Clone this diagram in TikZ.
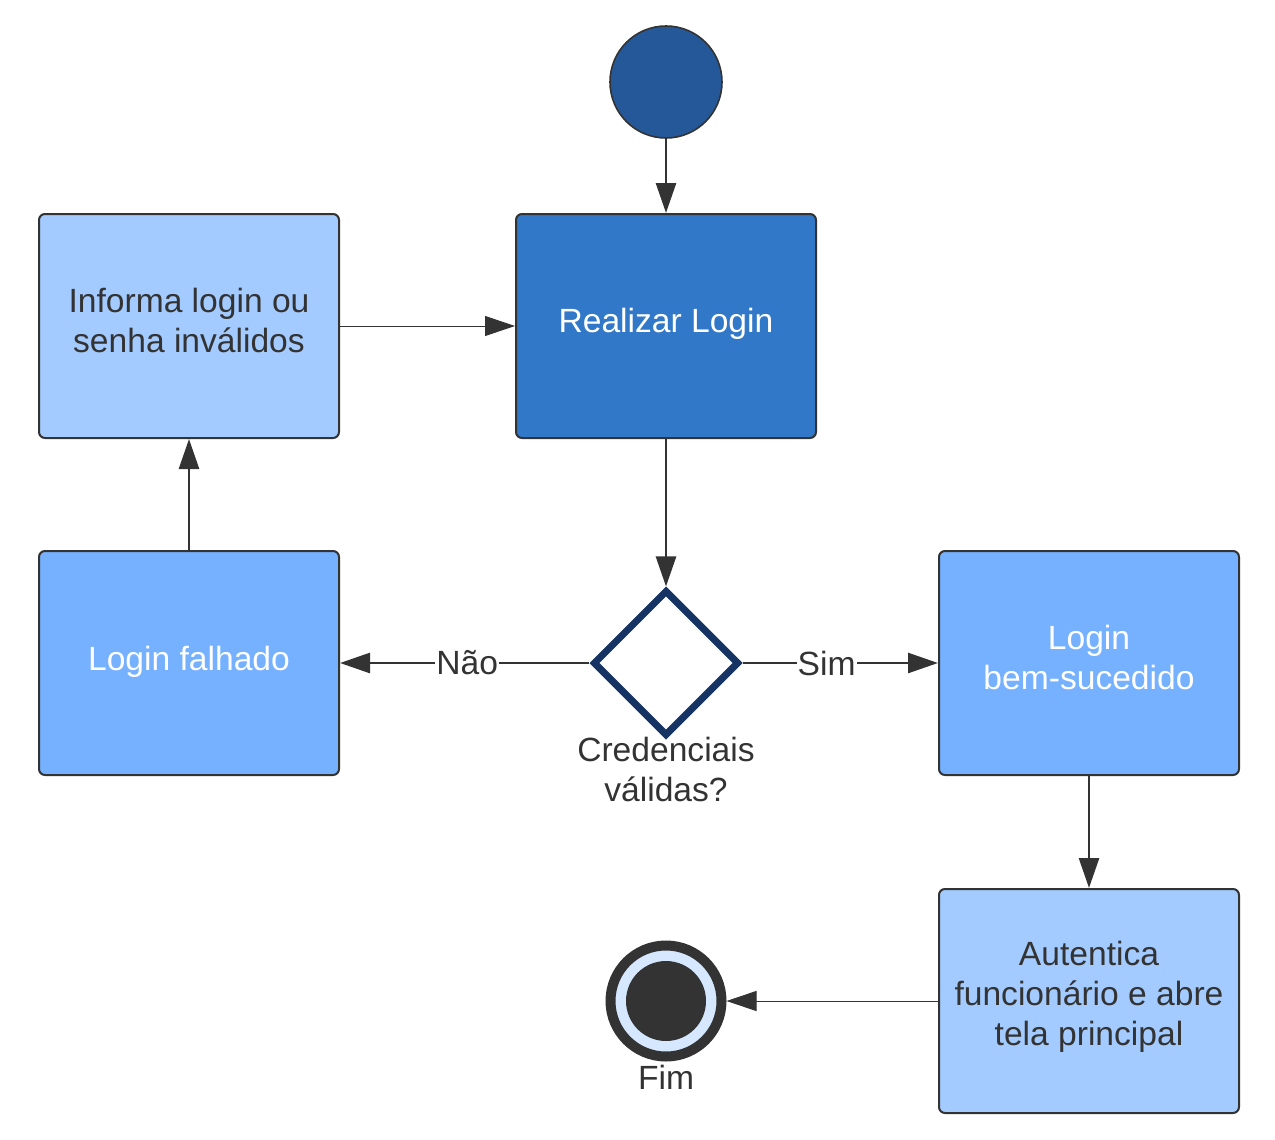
\documentclass[tikz,border=0pt]{standalone}
\usepackage{fontspec}
\setmainfont{Liberation Sans}
\usetikzlibrary{shapes.geometric,arrows.meta}
\definecolor{startblue}{RGB}{36,88,152}
\definecolor{midblue}{RGB}{49,120,200}
\definecolor{brightblue}{RGB}{117,177,255}
\definecolor{lightblue}{RGB}{163,203,255}
\definecolor{navy}{RGB}{22,52,99}
\definecolor{ringblue}{RGB}{214,232,255}
\definecolor{darkg}{RGB}{51,51,51}
\tikzset{
  boxstyle/.style={draw=darkg, line width=1pt, rounded corners=3pt, minimum width=150pt, minimum height=112pt, inner sep=0pt},
  boxtext/.style={align=center, font=\fontsize{16.8}{20}\selectfont, inner sep=0pt},
  darkbox/.style={boxstyle, fill=midblue},
  medbox/.style={boxstyle, fill=brightblue},
  litebox/.style={boxstyle, fill=lightblue},
  conn/.style={draw=darkg, line width=1.3pt, -{Triangle[length=15pt,width=10pt]}},
  thinconn/.style={draw=darkg, line width=0.5pt, -{Triangle[length=15pt,width=10pt]}},
  lbl/.style={font=\fontsize{16.8}{20}\selectfont, text=darkg, fill=white, inner sep=0.5pt},
}
\begin{document}
\begin{tikzpicture}[x=0.5pt,y=-0.5pt]
\useasboundingbox (0,0) rectangle (1275,1140);
\node[circle, draw=darkg, line width=0.8pt, fill=startblue, minimum size=56pt, inner sep=0pt] (start) at (666,82) {};
\node[darkbox, label={[boxtext, text=white, yshift=1pt]center:Realizar Login}] (real) at (666,326) {};
\node[litebox, label={[boxtext, text=darkg, yshift=3pt]center:Informa login ou\\senha inválidos}] (inf) at (189,326) {};
\node[medbox, label={[boxtext, text=white, yshift=0.5pt]center:Login falhado}] (falh) at (189,663) {};
\node[medbox, label={[boxtext, text=white, yshift=3pt]center:Login\\bem-sucedido}] (bem) at (1089,663) {};
\node[litebox, label={[boxtext, text=darkg, yshift=2pt]center:Autentica\\funcionário e abre\\tela principal}] (aut) at (1089,1001) {};
\node[diamond, draw=navy, line width=3.5pt, fill=white, minimum width=73pt, minimum height=73pt, inner sep=0pt, aspect=1] (dec) at (666,663) {};
\node[boxtext, text=darkg, anchor=north] (declbl) at (666,737) {Credenciais\\válidas?};
% end node
\node[circle, draw=darkg, line width=5pt, fill=ringblue, minimum size=55.5pt, inner sep=0pt] (fin) at (666,1001) {};
\node[circle, fill=darkg, minimum size=40pt, inner sep=0pt] (findot) at (666,1001) {};
\node[font=\fontsize{16.8}{20}\selectfont, text=darkg, anchor=north] (finlbl) at (666,1058) {Fim};
% connectors
\draw[conn] (start) -- (real);
\draw[thinconn] (inf.east |- 0,326) -- (real.west |- 0,326);
\draw[conn] (falh) -- (inf);
\draw[conn] (real) -- (dec);
\draw[conn] (dec) -- node[lbl, pos=0.49] {Não} (falh);
\draw[conn] (dec) -- node[lbl, pos=0.43] {Sim} (bem);
\draw[conn] (bem) -- (aut);
\draw[thinconn] (aut) -- (fin);
\end{tikzpicture}
\end{document}
